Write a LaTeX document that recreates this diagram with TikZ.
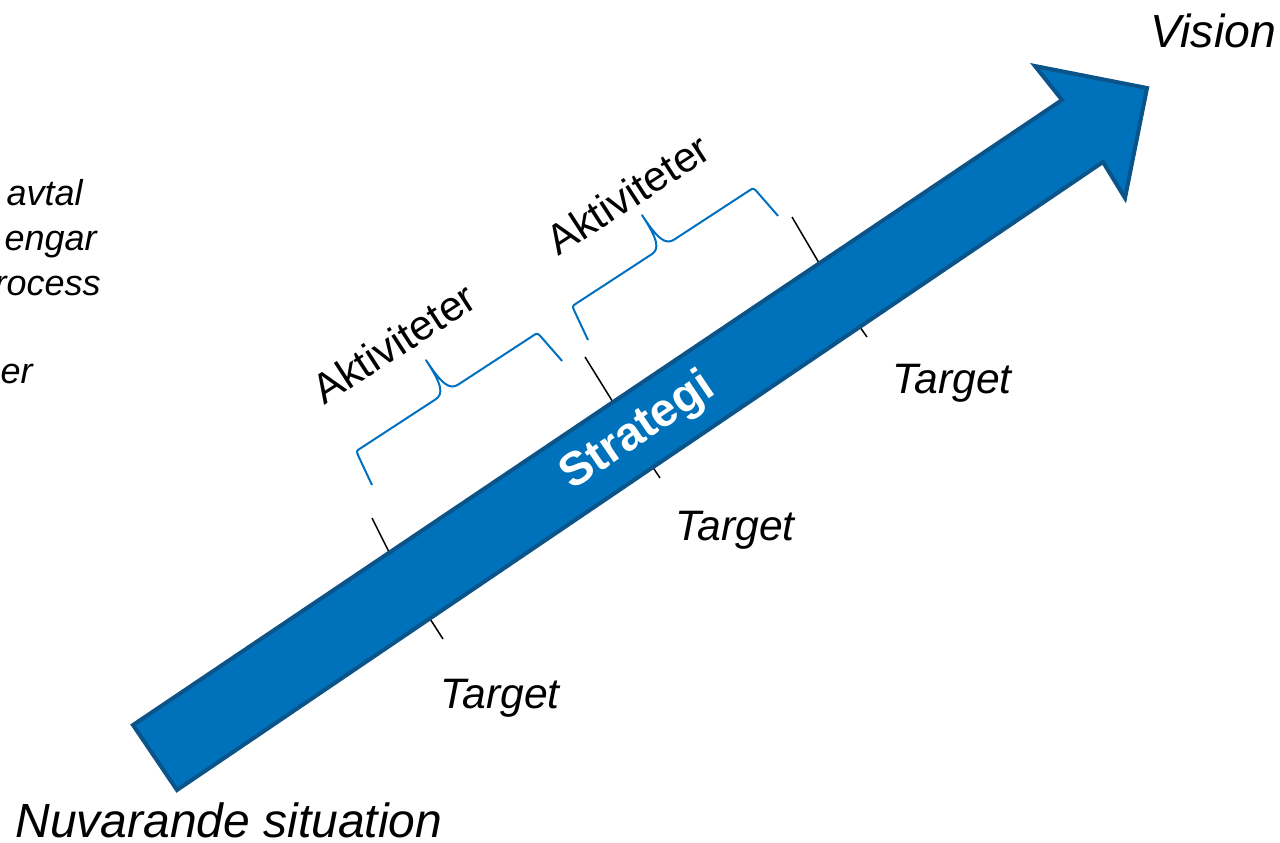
\documentclass[tikz,border=0pt]{standalone}
\usepackage{fontspec}
\setmainfont{Liberation Sans}
\definecolor{arrowfill}{RGB}{0,114,187}
\definecolor{arrowline}{RGB}{10,84,138}
\definecolor{bracecol}{RGB}{0,112,192}
\begin{document}
\begin{tikzpicture}[x=0.5pt,y=-0.5pt,
  bigarrow/.style={fill=arrowfill,draw=arrowline,line width=2pt,line join=miter},
  tickline/.style={draw=black,line width=0.75pt},
  bracestyle/.style={draw=bracecol,line width=1pt,line join=round},
  lbl/.style={inner sep=0pt,font=\itshape\fontsize{21.3}{25}\selectfont},
  big/.style={inner sep=0pt,font=\itshape\fontsize{24}{28}\selectfont},
  side/.style={inner sep=0pt,anchor=base east,font=\itshape\fontsize{18}{22}\selectfont},
  akt/.style={inner sep=0pt,rotate=33,font=\fontsize{21}{25}\selectfont},
  strat/.style={inner sep=0pt,rotate=34,text=white,font=\bfseries\fontsize{23.5}{27}\selectfont}
]
\useasboundingbox (0,0) rectangle (1280,842);

% tick marks (under the arrow)
\draw[tickline] (372,518) -- (392,558);
\draw[tickline] (585,357) -- (616,407);
\draw[tickline] (792,217) -- (822,268);
\draw[tickline] (425,611) -- (443,639);
\draw[tickline] (648,460) -- (660,478);
\draw[tickline] (855,320) -- (867,337);

% main arrow
\coordinate (t1) at (133,725);
\coordinate (t2) at (177,790);
\coordinate (n1) at (1062,100);
\coordinate (h1) at (1035,66);
\coordinate (tip) at (1147,88);
\coordinate (h2) at (1125,198);
\coordinate (n2) at (1103,162);
\draw[bigarrow] (t1) -- (n1) -- (h1) -- (tip) -- (h2) -- (n2) -- (t2) -- cycle;

% braces
\begin{scope}[shift={(372,485)},rotate=33.13]
\draw[bracestyle] (0,0) -- (4.5,-32) .. controls (5.5,-37) .. (10,-37) -- (100,-37)
  .. controls (110,-37) and (113.5,-46) .. (113.5,-75)
  .. controls (113.5,-46) and (117,-37) .. (127,-37) -- (217,-37)
  .. controls (221.5,-37) .. (222.5,-32) -- (227,0);
\end{scope}
\begin{scope}[shift={(588,340)},rotate=33.13]
\draw[bracestyle] (0,0) -- (4.5,-32) .. controls (5.5,-37) .. (10,-37) -- (100,-37)
  .. controls (110,-37) and (113.5,-46) .. (113.5,-75)
  .. controls (113.5,-46) and (117,-37) .. (127,-37) -- (217,-37)
  .. controls (221.5,-37) .. (222.5,-32) -- (227,0);
\end{scope}

% texts
\node[akt] (akt1) at (394,343) {Aktiviteter};
\node[akt] (akt2) at (628,194) {Aktiviteter};
\node[strat] (strategi) at (638,432) {Strategi};

\node[lbl,anchor=base west] (tg1) at (440,708) {Target};
\node[lbl,anchor=base west] (tg2) at (675,540) {Target};
\node[lbl,anchor=base west] (tg3) at (892,393) {Target};

\node[inner sep=0pt,anchor=base west,font=\itshape\fontsize{23.2}{27}\selectfont] (vision) at (1150,47) {Vision};
\node[big,anchor=base west] (nuv) at (15,837) {Nuvarande situation};

\node[side] (s1) at (83,205) {avtal};
\node[side] (s2) at (97,250) {engar};
\node[side] (s3) at (101,295) {rocess};
\node[side] (s4) at (33,383) {er};
\end{tikzpicture}
\end{document}
